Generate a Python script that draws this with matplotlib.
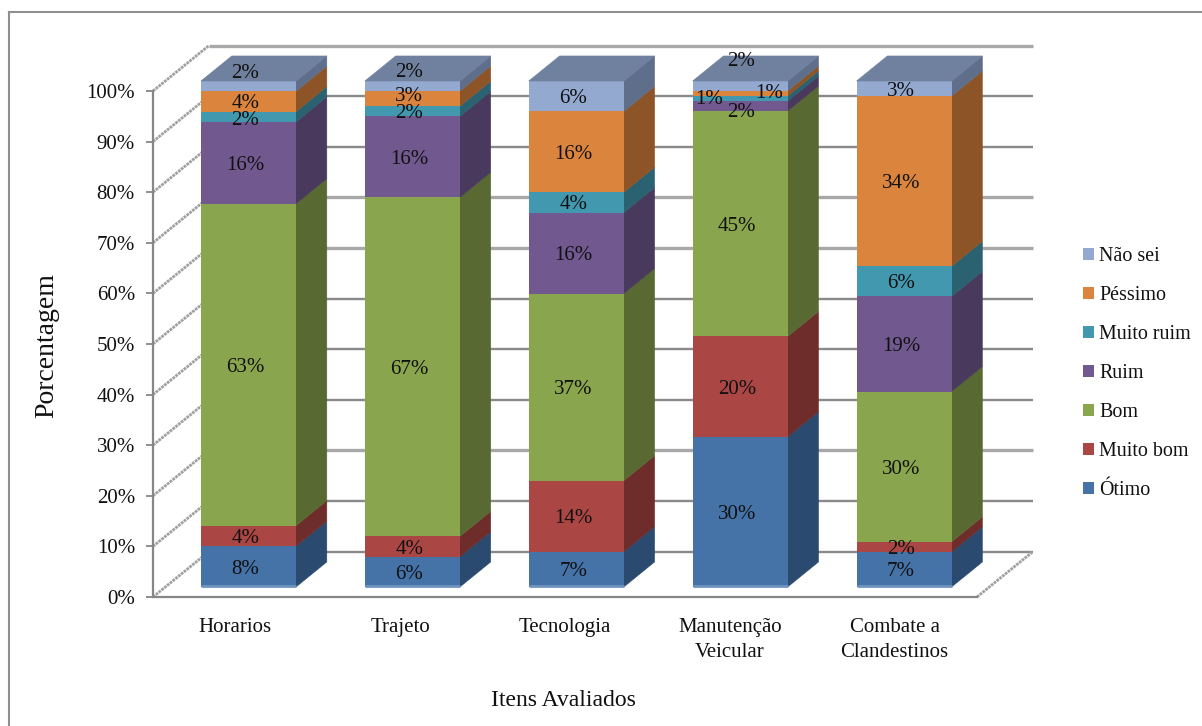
import matplotlib
matplotlib.use("Agg")
import matplotlib.pyplot as plt
from matplotlib.lines import Line2D
from matplotlib.patches import Polygon, Rectangle

categories = ["Horarios", "Trajeto", "Tecnologia", "Manutenção\nVeicular", "Combate a\nClandestinos"]
otimo = [8, 6, 7, 30, 7]
muito_bom = [4, 4, 14, 20, 2]
bom = [63, 67, 37, 45, 30]
ruim = [16, 16, 16, 2, 19]
muito_ruim = [2, 2, 4, 1, 6]
pessimo = [4, 3, 16, 1, 34]
nao_sei = [2, 2, 6, 2, 3]
series_names = ["Ótimo", "Muito bom", "Bom", "Ruim", "Muito ruim", "Péssimo", "Não sei"]
y_ticks = list(range(0, 101, 10))

series_values = [otimo, muito_bom, bom, ruim, muito_ruim, pessimo, nao_sei]
front_colors = ["#4572A7", "#AA4643", "#89A54E", "#71588F", "#4198AF", "#DB843D", "#93A9CF"]
side_colors = ["#2B4A6F", "#6E2D2B", "#586A32", "#49395C", "#2A6271", "#8D5527", "#5F6E8A"]
top_color = "#6F819F"
base_edge = "#7094C0"

W, H = 1202, 726
plt.rcParams["font.family"] = "Liberation Serif"
fig = plt.figure(figsize=(W / 100, H / 100), dpi=100, facecolor="white")
TXT = "#111111"
LABEL_SIZE = 15

# Front plane of the box: pixel extents of the axes
left, right, y0, y100 = 153, 977, 597, 91
ax = fig.add_axes([left / W, 1 - y0 / H, (right - left) / W, (y0 - y100) / H])
ax.set_xlim(0, len(categories))
ax.set_ylim(0, 100)
ax.patch.set_visible(False)

# Oblique projection: full depth expressed in axis units
px_x = (right - left) / len(categories)
px_y = (y0 - y100) / 100
depth_x = 56 / px_x
depth_y = 45.5 / px_y


def proj(x, y, d):
    return (x + d * depth_x, y + d * depth_y)


GRID = "#8A8A8A"
for v in y_ticks:
    # back wall gridlines
    x0, yb = proj(0, v, 1)
    x1, _ = proj(len(categories), v, 1)
    heavy = v in (20, 60, 70, 100)
    ax.plot([x0, x1], [yb, yb], color="#A8A8A8" if heavy else GRID,
            lw=2.4 if heavy else 1.7, clip_on=False, zorder=1, solid_capstyle="butt")
    # side wall gridlines
    xa, ya = proj(0, v, 1)
    ax.plot([0, xa], [v, ya], color="#A0A0A0", lw=2.0, ls=(0, (1.0, 0.3)),
            clip_on=False, zorder=1)
# floor edge on the right
xa, ya = proj(len(categories), 0, 1)
ax.plot([len(categories), xa], [0, ya], color="#A0A0A0", lw=2.0, ls=(0, (1.0, 0.3)),
        clip_on=False, zorder=1)

# Bars sit inside the box depth
bar_w = 95 / px_x
bar_step = 0.9945
bar_start = 0.2165
d_front, d_back = 0.22, 0.77

for i in range(len(categories)):
    total = sum(s[i] for s in series_values)
    base = 0.0
    xc = bar_start + i * bar_step
    for k, s in enumerate(series_values):
        h = s[i] / total * 100
        top = base + h
        xl, yb = proj(xc, base, d_front)
        xr, yt = proj(xc + bar_w, top, d_front)
        xr2, yb2 = proj(xc + bar_w, base, d_back)
        _, yt2 = proj(xc + bar_w, top, d_back)
        ax.add_patch(Polygon([(xr, yb), (xr2, yb2), (xr2, yt2), (xr, yt)], closed=True,
                             fc=side_colors[k], ec=side_colors[k], lw=0.4,
                             clip_on=False, zorder=3 + k * 0.01))
        ax.add_patch(Rectangle((xl, yb), xr - xl, yt - yb, fc=front_colors[k], ec="none",
                               clip_on=False, zorder=4 + k * 0.01))
        if k == 0:
            ax.plot([xl, xr], [yb + 0.15, yb + 0.15], color=base_edge, lw=2,
                    clip_on=False, zorder=4.5, solid_capstyle="butt")
        base = top
    # roof of the stack
    xl, yt = proj(xc, 100, d_front)
    xr, _ = proj(xc + bar_w, 100, d_front)
    xl2, yt2 = proj(xc, 100, d_back)
    xr2, _ = proj(xc + bar_w, 100, d_back)
    ax.add_patch(Polygon([(xl, yt), (xr, yt), (xr2, yt2), (xl2, yt2)], closed=True,
                         fc=top_color, ec=top_color, lw=0.4, clip_on=False, zorder=5))

# Value labels, with hand-placed offsets (dx, dy in px, dy upwards) for the crowded ones
nudges = {
    (0, 4): (0, -1), (0, 5): (0, 0), (0, 6): (0, 15),
    (1, 5): (0, 5), (1, 6): (0, 16),
    (3, 3): (4, -4), (3, 4): (-28, 2), (3, 5): (32, 3), (3, 6): (4, 27),
    (4, 6): (0, 0),
}
for i in range(len(categories)):
    total = sum(s[i] for s in series_values)
    base = 0.0
    xc = bar_start + 0.5 * bar_w + i * bar_step
    for k, s in enumerate(series_values):
        h = s[i] / total * 100
        x, y = proj(xc, base + h / 2, d_front)
        dx, dy = nudges.get((i, k), (0, 0))
        ax.text(x + (dx - 3) / px_x, y + (dy - 2.5) / px_y, f"{s[i]}%", ha="center", va="center",
                fontsize=LABEL_SIZE, color=TXT, clip_on=False, zorder=8)
        base += h

# Axes furniture
for name in ("top", "right"):
    ax.spines[name].set_visible(False)
for name in ("left", "bottom"):
    ax.spines[name].set_color("#868686")
    ax.spines[name].set_linewidth(1.6)
ax.set_yticks(y_ticks)
ax.set_yticklabels([f"{v}%" for v in y_ticks], fontsize=LABEL_SIZE, color=TXT)
ax.set_xticks([i + 0.5 for i in range(len(categories))])
ax.set_xticklabels(categories, fontsize=LABEL_SIZE, color=TXT, linespacing=1.42)
ax.tick_params(axis="y", length=5, width=1.3, color="#868686", pad=8)
ax.tick_params(axis="x", length=0, pad=15)

fig.text(47 / W, 1 - 345 / H, "Porcentagem", rotation=90, ha="center", va="center",
         fontsize=20, color=TXT)
fig.text(563 / W, 1 - 701 / H, "Itens Avaliados", ha="center", va="center",
         fontsize=17, color=TXT)

# Legend, last series on top
handles = [Rectangle((0, 0), 1, 1, fc=c, ec="none") for c in front_colors][::-1]
fig.legend(handles, series_names[::-1], loc="center left",
           bbox_to_anchor=(1069 / W, 1 - 373.5 / H), frameon=False, fontsize=14.4,
           handlelength=0.55, handleheight=0.55, handletextpad=0.25,
           labelspacing=1.0, labelcolor=TXT, borderpad=0.2)

# Chart frame: only the left and top edges fall inside the canvas
for xs, ys in (((8.5 / W, 8.5 / W), (0, 1 - 12 / H)), ((8.5 / W, 1), (1 - 12 / H, 1 - 12 / H))):
    fig.add_artist(Line2D(xs, ys, transform=fig.transFigure, color="#8F8F8F", lw=1.5))

fig.savefig("out.png", dpi=100)
